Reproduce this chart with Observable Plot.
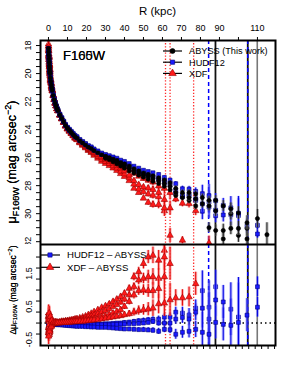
<!DOCTYPE html>
<html><head><meta charset="utf-8">
<script src="https://cdn.jsdelivr.net/npm/d3@7"></script>
<script src="https://cdn.jsdelivr.net/npm/@observablehq/plot@0.6"></script>
<style>
body{margin:0;background:#fff;}
#chart{width:307px;}
#chart svg{display:block;}
</style></head><body><div id="chart"></div>
<script>
// ---------- data ----------
const radius = [
 0, 0.1, 0.2, 0.3, 0.4, 0.5, 0.6, 0.7, 0.8, 1.0,
 1.25, 1.5, 1.75, 2, 2.5, 3, 3.5, 4, 4.5, 5,
 6, 7, 8, 9, 10, 11, 12, 13, 14, 15,
 16.5, 18, 19.5, 21, 22.5, 24, 26, 28,
 30, 32, 34, 36, 38, 40, 42.5, 45, 47.5, 50,
 52.5, 55, 58, 61, 64,
 67, 70.5, 74, 77.5, 81, 84.5, 88, 92, 96, 100, 104.5, 110, 115];

const abyssA = [
 18.2, 18.45, 18.7, 18.95, 19.2, 19.45, 19.65, 19.85, 20.0, 20.3,
 20.55, 20.8, 21.0, 21.2, 21.55, 21.85, 22.1, 22.3, 22.5, 22.65,
 22.95, 23.2, 23.45, 23.7, 23.9, 24.05, 24.2, 24.35, 24.5, 24.6,
 24.8, 24.95, 25.1, 25.25, 25.35, 25.5, 25.65, 25.8,
 25.9, 26.0, 26.1, 26.2, 26.35, 26.45, 26.6, 26.8, 26.95, 27.1,
 27.2, 27.3, 27.45, 27.6, 27.8,
 28.2, 28.5, 28.5, 28.6, 28.85, 29.05, 29.05, 29.45, 29.65, 29.95, 30.65, 30.35, 31.5];
const errAbyss = [
 0.02,0.02,0.02,0.02,0.02,0.02,0.02,0.02,0.02,0.02,
 0.02,0.02,0.02,0.02,0.02,0.02,0.02,0.02,0.02,0.02,
 0.02,0.02,0.02,0.02,0.02,0.02,0.02,0.02,0.02,0.02,
 0.03,0.03,0.03,0.03,0.03,0.04,0.04,0.04,
 0.05,0.05,0.05,0.06,0.06,0.07,0.07,0.08,0.09,0.1,
 0.1,0.11,0.12,0.13,0.15,
 0.17,0.19,0.21,0.23,0.26,0.3,0.34,0.38,0.42,0.45,0.5,0.65,0.85];

const rOuter = [30, 32, 34, 36, 38, 40, 42.5, 45, 47.5, 50, 52.5, 55, 58, 61, 64,
 67, 70.5, 74, 77.5, 81, 84.5, 88, 92, 96, 100, 104.5, 110, 115];
const abyssB = [25.95, 26.05, 26.2, 26.3, 26.45, 26.6, 26.75, 26.95, 27.1, 27.25, 27.35, 27.5, 27.65, 27.85, 28.05,
 28.5, 28.85, 28.85, 28.95, 29.3, 29.45, 29.8, 31.2, 30.0, 31.05, 31.05, null, null];
const abyssC = [26.05, 26.15, 26.3, 26.45, 26.6, 26.75, 26.95, 27.1, 27.25, 27.4, 27.55, 27.7, 27.85, 28.05, 28.3,
 28.7, null, 29.05, 29.45, null, 31.0, 31.2, 31.8, 31.05, 31.55, 31.8, null, null];
const errAbyssOuter = [0.05,0.05,0.05,0.06,0.06,0.07,0.07,0.08,0.09,0.1, 0.1,0.11,0.12,0.13,0.15,
 0.2,0.22,0.25,0.28,0.3,0.35,0.4,0.45,0.45,0.5,0.55,0.65,0.85];

// HUDF12 - ABYSS (mag)
const hudfA = [
 0.2, 0.1, 0.15, 0.05, 0.1, 0.0, 0.08, 0.04, 0.05, 0.03,
 0.02, 0.04, 0.01, 0.02, 0.0, 0.02, 0.01, 0.0, 0.01, 0.0,
 0.0, 0.01, 0.0, 0.0, 0.0, 0.01, 0.0, 0.0, 0.0, -0.01,
 -0.01, -0.02, -0.02, -0.02, -0.03, -0.03, -0.03, -0.03,
 -0.02, -0.02, -0.01, 0.0, 0.0, 0.02, 0.03, 0.05, 0.07, 0.08,
 0.1, 0.11, 0.12, 0.18, 0.18,
 0.33, 0.3, 0.24, 0.45, 0.98, 0.48, 1.1, 0.64, 0.42, 0.18, 0.24, 1.1, null];
const hudfB = [
 0.1, -0.05, 0.05, 0.12, -0.02, 0.06, 0.0, 0.03, -0.02, 0.01,
 0.0, -0.01, 0.01, 0.0, -0.01, 0.0, -0.01, -0.01, -0.01, -0.01,
 -0.01, -0.02, -0.02, -0.02, -0.03, -0.03, -0.03, -0.04, -0.04, -0.04,
 -0.04, -0.05, -0.05, -0.05, -0.05, -0.05, -0.05, -0.05,
 -0.05, -0.05, -0.04, -0.04, -0.03, -0.03, -0.02, -0.02, -0.01, 0.0,
 0.02, 0.05, 0.0, 0.0, 0.0,
 0.12, 0.17, 0.12, 0.33, 0.45, 0.12, 0.7, -0.04, -0.07, 0.02, null, 0.48, null];
const hudfC = [
 0.0, 0.08, -0.05, 0.02, 0.06, -0.03, 0.03, -0.02, 0.0, -0.02,
 -0.02, -0.03, -0.02, -0.03, -0.03, -0.04, -0.04, -0.04, -0.05, -0.05,
 -0.05, -0.06, -0.06, -0.07, -0.07, -0.08, -0.08, -0.09, -0.09, -0.1,
 -0.1, -0.1, -0.11, -0.11, -0.12, -0.12, -0.13, -0.13,
 -0.13, -0.14, -0.15, -0.16, -0.17, -0.18, -0.18, -0.19, -0.2, -0.2,
 -0.21, -0.22, -0.25, -0.19, -0.2,
 -0.34, -0.28, -0.25, -0.19, -0.28, -0.34, 0.02, null, null, null, null, null, null];
const errHudf = [
 0.05,0.05,0.05,0.04,0.04,0.04,0.04,0.03,0.03,0.03,
 0.03,0.03,0.02,0.02,0.02,0.02,0.02,0.02,0.02,0.02,
 0.02,0.02,0.02,0.02,0.02,0.02,0.02,0.02,0.02,0.02,
 0.02,0.02,0.02,0.03,0.03,0.03,0.03,0.03,
 0.03,0.04,0.04,0.04,0.05,0.05,0.05,0.06,0.06,0.07,
 0.07,0.08,0.09,0.1,0.12,
 0.15,0.18,0.2,0.25,0.6,0.8,0.5,0.5,0.8,1.2,0.5,0.3,0.3];

// XDF - ABYSS (mag)
const xdfA = [
 -0.3, 0.2, -0.1, 0.25, -0.35, 0.1, -0.2, 0.15, -0.25, 0.05,
 -0.1, 0.12, -0.05, 0.05, 0.02, 0.0, 0.03, 0.02, 0.01, 0.0,
 0.03, 0.05, 0.05, 0.06, 0.07, 0.08, 0.09, 0.1, 0.12, 0.13,
 0.15, 0.18, 0.21, 0.25, 0.29, 0.34, 0.4, 0.47,
 0.52, 0.58, 0.65, 0.72, 0.8, 0.9, 1.05, 1.4, 1.55, 1.8,
 2.0, 2.05, 1.9, 2.2, 1.8,
 null, 3.4, null, null, null, null, null, null, null, null, null, null, null];
const xdfB = [
 0.2, -0.25, 0.3, -0.15, 0.1, -0.3, 0.2, -0.1, 0.15, -0.05,
 0.1, -0.08, 0.05, 0.0, 0.04, -0.02, 0.02, 0.01, 0.02, 0.02,
 0.02, 0.03, 0.04, 0.05, 0.05, 0.06, 0.07, 0.08, 0.09, 0.1,
 0.11, 0.13, 0.15, 0.18, 0.21, 0.24, 0.28, 0.33,
 0.38, 0.43, 0.5, 0.56, 0.63, 0.72, 0.85, 1.1, 1.3, 1.35,
 1.4, 1.4, 1.35, 2.0, 3.75,
 null, null, null, null, null, null, null, null, null, null, null, null, null];
const xdfC = [
 -0.15, 0.3, -0.3, 0.05, 0.2, -0.1, 0.1, -0.2, 0.05, 0.15,
 -0.05, 0.08, 0.0, 0.03, -0.02, 0.02, 0.01, 0.02, 0.01, 0.01,
 0.01, 0.02, 0.02, 0.03, 0.03, 0.04, 0.04, 0.05, 0.05, 0.06,
 0.07, 0.08, 0.09, 0.1, 0.12, 0.14, 0.16, 0.19,
 0.22, 0.26, 0.3, 0.35, 0.4, 0.5, 0.65, 0.85, 0.98, 1.0,
 0.98, 0.98, 1.04, 1.4, null,
 null, null, null, null, null, null, null, null, null, null, null, null, null];
const xdfD = [
 0.1, -0.4, 0.15, -0.2, 0.3, -0.05, -0.25, 0.1, -0.15, 0.2,
 0.05, -0.1, 0.08, -0.03, 0.02, 0.0, 0.01, 0.0, 0.01, 0.0,
 0.0, 0.01, 0.01, 0.02, 0.02, 0.02, 0.03, 0.03, 0.04, 0.04,
 0.05, 0.05, 0.06, 0.07, 0.08, 0.09, 0.1, 0.12,
 0.14, 0.16, 0.18, 0.2, 0.22, 0.25, 0.28, 0.33, 0.38, 0.4,
 0.42, 0.45, 0.58, 0.6, 0.7,
 0.76, 0.76, 0.79, 1.19, null, 3.05, null, null, null, null, null, null, null];
const errXdf = [
 0.25,0.25,0.22,0.22,0.2,0.2,0.18,0.18,0.16,0.15,
 0.13,0.12,0.1,0.09,0.08,0.07,0.06,0.05,0.05,0.04,
 0.04,0.03,0.03,0.03,0.03,0.03,0.03,0.03,0.03,0.03,
 0.03,0.03,0.04,0.04,0.04,0.05,0.05,0.05,
 0.06,0.06,0.07,0.07,0.08,0.09,0.1,0.12,0.14,0.16,
 0.2,0.25,0.3,0.4,0.5,
 0.25,0.25,0.3,0.35,0.4,0.5,0.5,0.5,0.5,0.5,0.5,0.5,0.5];

// reference radii (kpc)
const redDotted = [61.6, 64.0, 76.4];
const blueDashed = [84.3, 104.9];
const blackSolid = [87.9, 104.9];
const graySolid = [109.9];

// axes
const topTicks = [0, 10, 20, 30, 40, 50, 60, 70, 80, 90, 100, 110];
const topTickLabels = ["0","10","20","30","40","50","60","70","80","90","","110"];
const yMajorTop = [18, 20, 22, 24, 26, 28, 30, 32];
const yMinorTop = d3.range(18, 32.01, 0.5);
const yLabelsLow = [1.5, 0.5, -0.5];
const yTicksLow = [-0.333, 0, 0.333, 0.667, 1, 1.333, 1.667, 2];
const bottomTicks = d3.range(0, 36).map(i => i * 3.4);

const legendTop = ["ABYSS (This work)", "HUDF12", "XDF"];
const legendLow = ["HUDF12 \u2013 ABYSS", "XDF \u2013 ABYSS"];
const filters = ["F105W", "F160W"];

// ---------- build ----------
const FONT = "'Liberation Sans', Arial, Helvetica, sans-serif";
const W = 307, LEFT = 40, RIGHT = 32;
const xDomain = [-4.2, 119.5];

function rows(rs, vals, errs, base) {
  const out = [];
  for (let i = 0; i < rs.length; i++) {
    if (vals[i] == null) continue;
    const v = base ? base[i] + vals[i] : vals[i];
    out.push({r: rs[i], v, lo: v - errs[i], hi: v + errs[i]});
  }
  return out;
}
const ST = {
  abyss: {symbol: "circle", r: 2.1, fill: "#000", stroke: "#000", light: "#8a8a8a", dark: "#222"},
  hudf: {symbol: "square", r: 2.2, fill: "#1a1aff", stroke: "#00007a", light: "#7f7fff", dark: "#0000e0"},
  xdf: {symbol: "triangle", r: 2.4, fill: "#ff1a1a", stroke: "#990000", light: "#ff8080", dark: "#e00000"}
};
function series(data, st) {
  return [
    Plot.ruleX(data, {x: "r", y1: "lo", y2: "hi", stroke: st.light, strokeOpacity: 0.6, strokeWidth: 3, clip: true}),
    Plot.ruleX(data, {x: "r", y1: "lo", y2: "hi", stroke: st.dark, strokeWidth: 1, clip: true}),
    Plot.dot(data, {x: "r", y: "v", symbol: st.symbol, r: st.r, fill: st.fill, stroke: st.stroke, strokeWidth: 0.6, clip: true})
  ];
}
function vlines() {
  return [
    Plot.ruleX(redDotted, {x: d => d, stroke: "#ff2a2a", strokeWidth: 1.3, strokeDasharray: "1.3,1.8"}),
    Plot.ruleX(blackSolid, {x: d => d, stroke: "#111", strokeWidth: 1.8}),
    Plot.ruleX(graySolid, {x: d => d, stroke: "#777", strokeWidth: 1.6}),
    Plot.ruleX(blueDashed, {x: d => d, stroke: "#0000ff", strokeWidth: 1.5, strokeDasharray: "4,3"})
  ];
}

const topPlot = Plot.plot({
  width: W, height: 244, marginTop: 40, marginBottom: 0, marginLeft: LEFT, marginRight: RIGHT,
  style: {fontFamily: FONT, fontSize: "9px", background: "white", color: "black"},
  x: {domain: xDomain, axis: null},
  y: {domain: [17.64, 32.2], reverse: true, axis: null},
  marks: [
    ...vlines(),
    ...series(rows(radius, xdfA, errXdf, abyssA), ST.xdf),
    ...series(rows(radius, xdfB, errXdf, abyssA), ST.xdf),
    ...series(rows(radius, xdfC, errXdf, abyssA), ST.xdf),
    ...series(rows(radius, xdfD, errXdf, abyssA), ST.xdf),
    ...series(rows(radius, hudfA, errHudf, abyssA), ST.hudf),
    ...series(rows(radius, hudfB, errHudf, abyssA), ST.hudf),
    ...series(rows(radius, hudfC, errHudf, abyssA), ST.hudf),
    ...series(rows(rOuter, abyssC, errAbyssOuter), ST.abyss),
    ...series(rows(rOuter, abyssB, errAbyssOuter), ST.abyss),
    ...series(rows(radius, abyssA, errAbyss), ST.abyss),
    Plot.axisX({anchor: "top", ticks: topTicks, tickSize: 4, tickPadding: 6, tickFormat: (d, i) => topTickLabels[i], label: null}),
    Plot.axisY({anchor: "left", ticks: yMinorTop, tickSize: 4, tickFormat: () => "", label: null}),
    Plot.text(yMajorTop, {y: d => d, frameAnchor: "left", dx: -12, rotate: -90, text: d => String(d), textAnchor: "middle", lineAnchor: "middle", fontSize: 9}),
    Plot.frame({stroke: "black", strokeWidth: 2})
  ]
});

const lowPlot = Plot.plot({
  width: W, height: 141, marginTop: 0, marginBottom: 40, marginLeft: LEFT, marginRight: RIGHT,
  style: {fontFamily: FONT, fontSize: "9px", background: "white", color: "black"},
  x: {domain: xDomain, axis: null},
  y: {domain: [-0.68, 2.38], axis: null},
  marks: [
    ...vlines(),
    Plot.ruleY([0], {stroke: "black", strokeWidth: 1.5, strokeDasharray: "1.5,3"}),
    ...series(rows(radius, hudfA, errHudf), ST.hudf),
    ...series(rows(radius, hudfB, errHudf), ST.hudf),
    ...series(rows(radius, hudfC, errHudf), ST.hudf),
    ...series(rows(radius, xdfA, errXdf), ST.xdf),
    ...series(rows(radius, xdfB, errXdf), ST.xdf),
    ...series(rows(radius, xdfC, errXdf), ST.xdf),
    ...series(rows(radius, xdfD, errXdf), ST.xdf),
    Plot.axisX({anchor: "bottom", ticks: bottomTicks, tickSize: 4, tickFormat: () => "", label: null}),
    Plot.axisY({anchor: "left", ticks: yTicksLow, tickSize: 4, tickFormat: () => "", label: null}),
    Plot.text(yLabelsLow, {y: d => d, frameAnchor: "left", dx: -11, rotate: -90, text: d => String(d), textAnchor: "middle", lineAnchor: "middle", fontSize: 9}),
    Plot.frame({stroke: "black", strokeWidth: 2})
  ]
});

// ---------- titles, legends ----------
function yTitle(svg, x, y, size, prefix, sub) {
  const t = svg.append("text").attr("transform", `translate(${x},${y}) rotate(-90)`)
    .attr("text-anchor", "middle").attr("font-family", FONT).attr("font-size", size).attr("fill", "black");
  t.append("tspan").text(prefix);
  t.append("tspan").attr("font-size", size * 0.72).attr("dy", size * 0.22).text(sub);
  t.append("tspan").attr("dy", -size * 0.22).text(" (mag arcsec");
  t.append("tspan").attr("font-size", size * 0.72).attr("dy", -size * 0.4).text("\u22122");
  t.append("tspan").attr("dy", size * 0.4).text(")");
}
function sym(g, kind, x, y, r) {
  const st = ST[kind];
  const type = kind === "abyss" ? d3.symbolCircle : kind === "hudf" ? d3.symbolSquare : d3.symbolTriangle;
  g.append("path").attr("d", d3.symbol(type, Math.PI * r * r)()).attr("transform", `translate(${x},${y})`)
    .attr("fill", st.fill).attr("stroke", st.stroke).attr("stroke-width", 0.6);
}

const sT = d3.select(topPlot);
sT.append("text").attr("x", 157.5).attr("y", 15).attr("text-anchor", "middle")
  .attr("font-family", FONT).attr("font-size", 11.5).attr("fill", "black").text("R (kpc)");
filters.forEach(f => sT.append("text").attr("x", 63).attr("y", 60).attr("text-anchor", "start").attr("font-family", FONT)
  .attr("font-size", 13).attr("fill", "black").text(f));
filters.forEach(f => yTitle(sT, 16, 162, 12.5, "\u03bc", f));
const kinds = ["abyss", "hudf", "xdf"];
legendTop.forEach((lab, i) => {
  const y = 51 + i * 11.2;
  const g = sT.append("g");
  g.append("line").attr("x1", 163).attr("x2", 182).attr("y1", y).attr("y2", y).attr("stroke", "black").attr("stroke-width", 1.2);
  sym(g, kinds[i], 172.5, y, i === 0 ? 2.5 : i === 1 ? 2.4 : 2.8);
  g.append("text").attr("x", 189).attr("y", y + 3.3).attr("text-anchor", "start").attr("font-family", FONT).attr("font-size", 9.2).attr("fill", "black").text(lab);
});

const sL = d3.select(lowPlot);
filters.forEach(f => yTitle(sL, 15.5, 46, 8.5, "\u0394\u03bc", f));
legendLow.forEach((lab, i) => {
  const y = 11 + i * 12.3;
  const g = sL.append("g");
  g.append("line").attr("x1", 40).attr("x2", 60).attr("y1", y).attr("y2", y).attr("stroke", "black").attr("stroke-width", 1.2);
  sym(g, i === 0 ? "hudf" : "xdf", 50, y, i === 0 ? 2.4 : 2.8);
  g.append("text").attr("x", 67).attr("y", y + 3.4).attr("text-anchor", "start").attr("font-family", FONT).attr("font-size", 9.6).attr("fill", "black").text(lab);
});

const chart = document.getElementById("chart");
chart.appendChild(topPlot);
chart.appendChild(lowPlot);
</script></body></html>
